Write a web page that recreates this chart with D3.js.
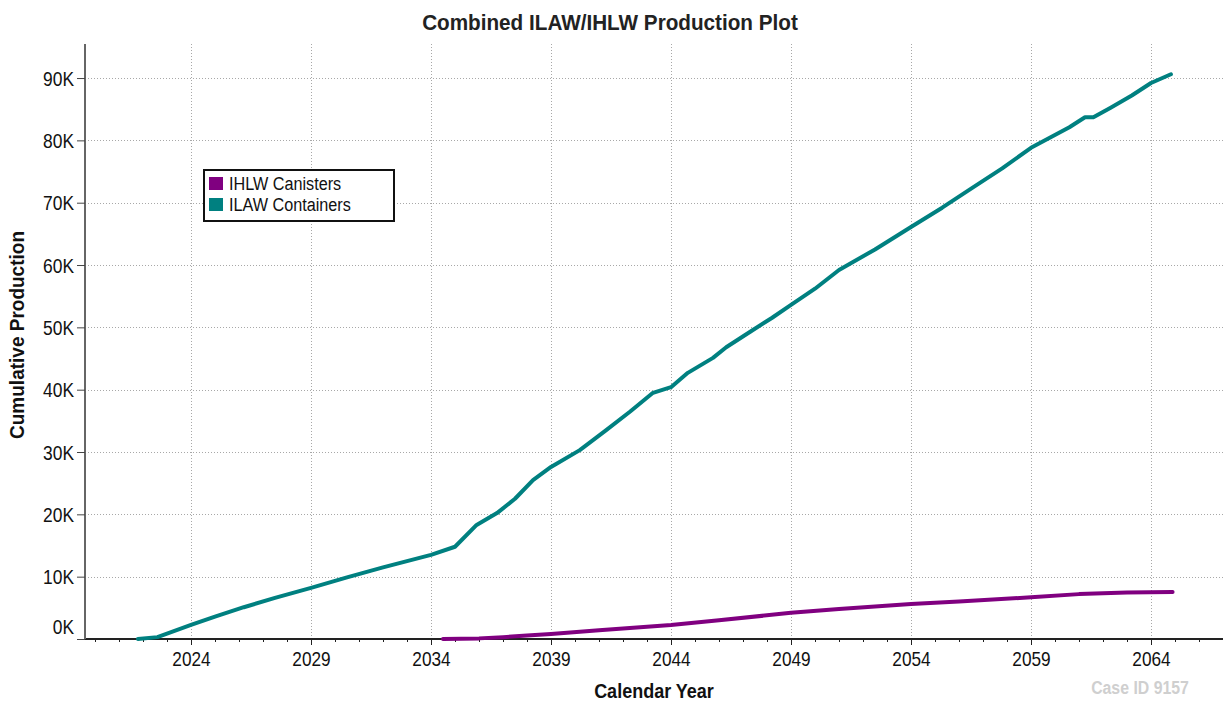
<!DOCTYPE html>
<html>
<head>
<meta charset="utf-8">
<script src="https://cdn.jsdelivr.net/npm/d3@7"></script>
<style>
  html, body { margin: 0; padding: 0; background: #fff; }
  svg { display: block; font-family: "Liberation Sans", Arial, sans-serif; }
</style>
</head>
<body>
<svg id="chart" width="1225" height="706"></svg>
<script>
// ---- Data ----
const titleText = "Combined ILAW/IHLW Production Plot";
const xLabel = "Calendar Year";
const yLabel = "Cumulative Production";
const caseText = "Case ID 9157";
const seriesNames = ["IHLW Canisters", "ILAW Containers"];
const seriesColors = ["#800080", "#008080"];

const xTickYears = [2024, 2029, 2034, 2039, 2044, 2049, 2054, 2059, 2064];
const yTickValues = [0, 10000, 20000, 30000, 40000, 50000, 60000, 70000, 80000, 90000];

const ilawYears = [2021.79, 2022.6, 2024, 2025, 2026.2, 2027.5, 2029, 2030.5, 2032, 2034, 2035, 2035.9, 2036.75, 2037.5, 2038.25, 2039, 2040.2, 2041.3, 2042.3, 2043.25, 2044, 2044.7, 2045.75, 2046.3, 2047.3, 2048.2, 2049, 2050, 2051, 2052.5, 2054, 2055.3, 2056.6, 2057.8, 2059, 2060.6, 2061.25, 2061.6, 2062.3, 2063.2, 2064, 2064.83];
const ilawValues = [0, 300, 2250, 3600, 5100, 6600, 8200, 9900, 11500, 13500, 14800, 18300, 20200, 22500, 25500, 27600, 30300, 33500, 36500, 39500, 40400, 42700, 45100, 46800, 49300, 51500, 53600, 56200, 59200, 62500, 66100, 69200, 72500, 75500, 78800, 82100, 83700, 83700, 85200, 87200, 89200, 90600];

const ihlwYears = [2034.5, 2036, 2037, 2038, 2039, 2041, 2044, 2046, 2049, 2051, 2054, 2056, 2059, 2061, 2063, 2064.9];
const ihlwValues = [0, 100, 300, 550, 800, 1400, 2250, 3000, 4200, 4800, 5600, 6000, 6700, 7200, 7450, 7550];

// ---- Helpers ----
// condense text horizontally (the original uses a narrow face)
function condense(sel, factor) {
  sel.each(function () {
    const w = this.getComputedTextLength();
    d3.select(this).attr("textLength", w * factor).attr("lengthAdjust", "spacingAndGlyphs");
  });
}

// ---- Layout ----
const svg = d3.select("#chart");
const mLeft = 85, mRight = 1223, mTop = 44, mBottom = 639;

const x = d3.scaleLinear().domain([2019.583, 2067]).range([mLeft, mRight]);
const y = d3.scaleLinear().domain([0, 95460]).range([mBottom, mTop]);

// gridlines
const grid = svg.append("g").attr("stroke", "#a8a8a8").attr("stroke-width", 1).attr("stroke-dasharray", "1,2");
grid.selectAll("line.v").data(xTickYears).join("line")
  .attr("x1", d => Math.round(x(d)) + 0.5).attr("x2", d => Math.round(x(d)) + 0.5)
  .attr("y1", mTop).attr("y2", mBottom);
grid.selectAll("line.h").data(yTickValues.filter(v => v > 0)).join("line")
  .attr("x1", mLeft).attr("x2", mRight)
  .attr("y1", d => Math.round(y(d)) + 0.5).attr("y2", d => Math.round(y(d)) + 0.5);

// X axis
const minorYears = d3.range(2020, 2067);
const xAxisMinor = d3.axisBottom(x).tickValues(minorYears).tickSize(3).tickFormat("");
const gxm = svg.append("g").attr("transform", `translate(0,${mBottom})`).call(xAxisMinor);
gxm.select(".domain").remove();
gxm.selectAll("line").attr("stroke", "#222").attr("stroke-width", 1);

const xAxis = d3.axisBottom(x).tickValues(xTickYears).tickSize(6).tickPadding(6).tickFormat(d3.format("d"));
const gx = svg.append("g").attr("transform", `translate(0,${mBottom})`).call(xAxis);
gx.select(".domain").attr("stroke", "#222").attr("stroke-width", 2).attr("d", `M${mLeft},0H${mRight}`);
gx.selectAll("line").attr("stroke", "#222").attr("stroke-width", 1);
gx.selectAll("text").attr("font-size", 21).attr("fill", "#111").attr("font-family", null)
  .call(condense, 0.82);

// Y axis
const yAxis = d3.axisLeft(y).tickValues(yTickValues).tickSize(8).tickPadding(3)
  .tickFormat(d => (d / 1000) + "K");
const gy = svg.append("g").attr("transform", `translate(${mLeft},0)`).call(yAxis);
gy.select(".domain").attr("stroke", "#666").attr("stroke-width", 2).attr("d", `M0,${mTop}V${mBottom}`);
gy.selectAll("line").attr("stroke", "#444").attr("stroke-width", 1);
gy.selectAll("text").attr("font-size", 20).attr("fill", "#111").attr("font-family", null)
  .attr("dy", d => d === 0 ? "-0.3em" : "0.35em")
  .call(condense, 0.87);

// Lines
const line = d3.line().x(d => x(d[0])).y(d => y(d[1]));
const ihlw = ihlwYears.map((yr, i) => [yr, ihlwValues[i]]);
const ilaw = ilawYears.map((yr, i) => [yr, ilawValues[i]]);
svg.append("path").datum(ihlw).attr("d", line).attr("fill", "none")
  .attr("stroke", seriesColors[0]).attr("stroke-width", 4).attr("stroke-linejoin", "round").attr("stroke-linecap", "round");
svg.append("path").datum(ilaw).attr("d", line).attr("fill", "none")
  .attr("stroke", seriesColors[1]).attr("stroke-width", 4).attr("stroke-linejoin", "round").attr("stroke-linecap", "round");

// Title
svg.append("text").attr("x", 610).attr("y", 30).attr("text-anchor", "middle")
  .attr("font-size", 22).attr("font-weight", "bold").attr("fill", "#222").text(titleText)
  .call(condense, 0.94);

// Axis labels
svg.append("text").attr("x", 654).attr("y", 698).attr("text-anchor", "middle")
  .attr("font-size", 20).attr("font-weight", "bold").attr("fill", "#111").text(xLabel)
  .call(condense, 0.9);
svg.append("text").attr("transform", "translate(24,335) rotate(-90)").attr("text-anchor", "middle")
  .attr("font-size", 20).attr("font-weight", "bold").attr("fill", "#111").text(yLabel)
  .call(condense, 0.95);

// Case ID
svg.append("text").attr("x", 1140).attr("y", 694).attr("text-anchor", "middle")
  .attr("font-size", 18).attr("font-weight", "bold").attr("fill", "#cfcfcf").text(caseText)
  .call(condense, 0.88);

// Legend
const lg = svg.append("g");
lg.append("rect").attr("x", 204).attr("y", 170).attr("width", 190).attr("height", 51)
  .attr("fill", "#fff").attr("stroke", "#111").attr("stroke-width", 2);
seriesNames.forEach((name, i) => {
  lg.append("rect").attr("x", 209).attr("y", 177 + i * 21).attr("width", 14).attr("height", 13)
    .attr("fill", seriesColors[i]);
  lg.append("text").attr("x", 229).attr("y", 190 + i * 21)
    .attr("font-size", 18).attr("fill", "#111").text(name)
    .call(condense, 0.9);
});
</script>
</body>
</html>
